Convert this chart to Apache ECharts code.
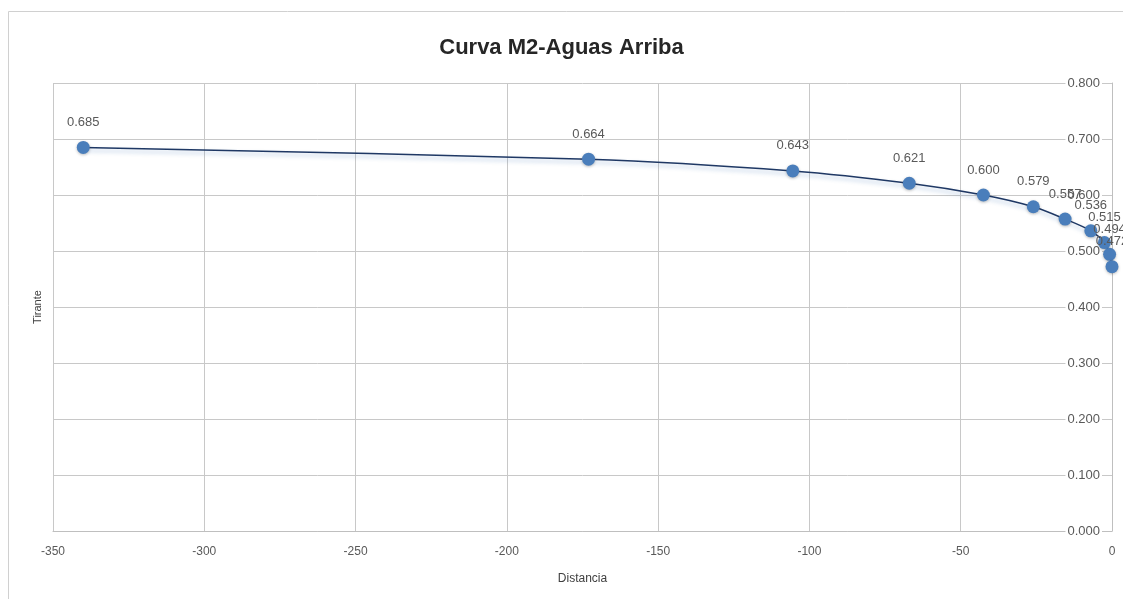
<!DOCTYPE html>
<html>
<head>
<meta charset="utf-8">
<script src="https://cdn.jsdelivr.net/npm/echarts@6/dist/echarts.min.js"></script>
<style>html,body{margin:0;padding:0;background:#fff;}#c{width:1123px;height:599px;}</style>
</head>
<body>
<div id="c"></div>
<script>
const distancia = [-340, -173, -105.5, -67, -42.5, -26, -15.5, -7, -2.5, -0.8, 0];
const tirante = [0.685, 0.664, 0.643, 0.621, 0.600, 0.579, 0.557, 0.536, 0.515, 0.494, 0.472];
const xTicks = [-350, -300, -250, -200, -150, -100, -50, 0];
const yTicks = [0, 0.1, 0.2, 0.3, 0.4, 0.5, 0.6, 0.7, 0.8];
const titleText = 'Curva M2-Aguas Arriba';
const xName = 'Distancia';
const yName = 'Tirante';

const points = distancia.map((d, i) => [d, tirante[i]]);
const font = 'Liberation Sans, Arial, sans-serif';
const chart = echarts.init(document.getElementById('c'), null, {renderer: 'canvas'});
chart.setOption({
  backgroundColor: '#fff',
  animation: false,
  graphic: [
    {type: 'rect', shape: {x: 8.5, y: 11.5, width: 1200, height: 700},
     style: {fill: '#fff', stroke: '#d0d0d0', lineWidth: 1}, z: -10, silent: true}
  ],
  title: {
    text: titleText, left: 'center', top: 32,
    textStyle: {fontFamily: font, fontWeight: 'bold', fontSize: 22, color: '#262626'}
  },
  grid: {left: 53, right: 11, top: 83, bottom: 68, containLabel: false},
  xAxis: {
    type: 'value', min: xTicks[0], max: xTicks[xTicks.length - 1], interval: 50,
    name: xName, nameLocation: 'middle', nameGap: 42,
    nameTextStyle: {fontFamily: font, fontSize: 12, color: '#404040'},
    axisLine: {show: true, onZero: false, lineStyle: {color: '#bfbfbf'}},
    axisTick: {show: false},
    axisLabel: {fontFamily: font, fontSize: 12, color: '#595959', margin: 15},
    splitLine: {show: true, lineStyle: {color: '#c8c8c8'}}
  },
  yAxis: {
    type: 'value', position: 'right', min: yTicks[0], max: yTicks[yTicks.length - 1], interval: 0.1,
    name: yName, nameLocation: 'middle', nameRotate: 90,
    nameTextStyle: {fontFamily: font, fontSize: 11, color: '#404040'},
    nameGap: -1080,
    axisLine: {show: true, onZero: false, lineStyle: {color: '#bfbfbf'}},
    axisTick: {show: false},
    axisLabel: {
      inside: true, margin: 10, fontFamily: font, fontSize: 13, color: '#595959',
      backgroundColor: '#fff', padding: [0, 2],
      formatter: v => v.toFixed(3)
    },
    splitLine: {show: true, lineStyle: {color: '#c8c8c8'}}
  },
  series: [{
    type: 'line', data: points, smooth: 0.3,
    symbol: 'circle', symbolSize: 13,
    itemStyle: {color: '#4a7ebb', shadowColor: 'rgba(0,0,0,0.25)', shadowBlur: 3, shadowOffsetY: 1},
    lineStyle: {color: '#1f3864', width: 1.5, shadowColor: 'rgba(79,129,189,0.45)', shadowBlur: 4, shadowOffsetY: 3},
    label: {
      show: true, position: 'top', distance: 12,
      fontFamily: font, fontSize: 13, color: '#595959',
      formatter: p => p.value[1].toFixed(3)
    },
    z: 5
  }]
});
</script>
</body>
</html>
